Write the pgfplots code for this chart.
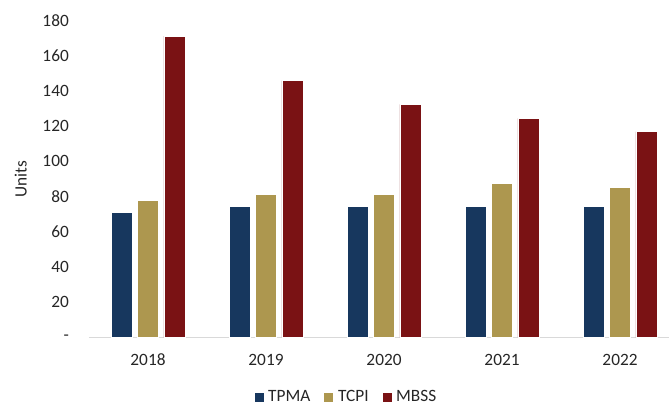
\documentclass[border=0pt]{standalone}
\usepackage{pgfplots}
\pgfplotsset{compat=1.18}
\usepackage{fontspec}
\setmainfont{Carlito}
\definecolor{tpma}{HTML}{17375E}
\definecolor{tcpi}{HTML}{AD974F}
\definecolor{mbss}{HTML}{7A1214}
\definecolor{axgray}{HTML}{D9D9D9}
\definecolor{txt}{HTML}{262626}
\begin{document}
\fontsize{17.3}{20}\selectfont
\begin{tikzpicture}
\begin{axis}[
  at={(0,0)}, anchor=south west, scale only axis,
  width=580pt, height=316.6pt,
  ymin=0, ymax=180, xmin=-0.5, xmax=4.415,
  ybar=5.3pt, bar width=21pt,
  axis x line*=bottom, axis y line*=left,
  x axis line style={draw=axgray, line width=1pt},
  y axis line style={draw=none},
  major tick length=0pt,
  ytick={0,20,40,60,80,100,120,140,160,180},
  yticklabels={-\hspace{6pt},20,40,60,80,100,120,140,160,180},
  yticklabel style={anchor=east, inner sep=0pt, xshift=-20pt, text=txt},
  xtick=data,
  xticklabels={2018,2019,2020,2021,2022},
  xticklabel style={anchor=base, inner sep=0pt, yshift=-28pt, text=txt},
  every axis y label/.style={at={(axis description cs:-0.1178,0.5)}, rotate=90, anchor=center, text=txt},
  ylabel={Units},
  legend style={at={(axis description cs:0.4422,-0.19)}, anchor=center, draw=none, legend columns=3,
    /tikz/every odd column/.append style={column sep=3pt},
    /tikz/every even column/.append style={column sep=12pt}, text=txt, inner sep=0pt,
    nodes={inner sep=1pt}},
  legend image code/.code={\fill[#1] (0pt,-5pt) rectangle (10pt,5pt);},
]
\addplot[fill=tpma, draw=white, line width=0.6pt] coordinates {(0,71) (1,74.2) (2,74.2) (3,74.2) (4,74.2)};
\addplot[fill=tcpi, draw=white, line width=0.6pt] coordinates {(0,78) (1,81.2) (2,81.2) (3,87.3) (4,85)};
\addplot[fill=mbss, draw=white, line width=0.6pt] coordinates {(0,171.2) (1,146) (2,132.4) (3,124.4) (4,117)};
\legend{TPMA,TCPI,MBSS}
\end{axis}
\pgfresetboundingbox
\path (-89pt,-69.7pt) rectangle (580pt,337.3pt);
\end{tikzpicture}
\end{document}
